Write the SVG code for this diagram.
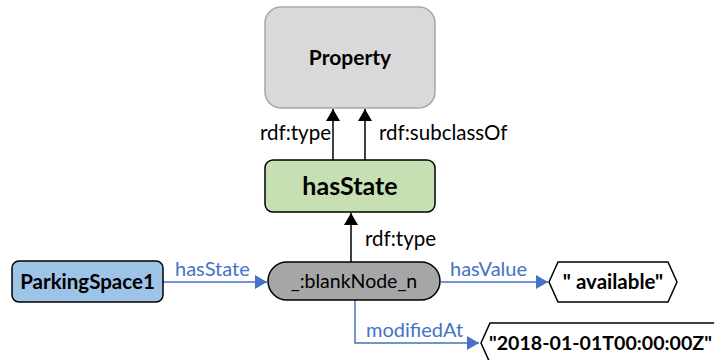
<svg xmlns="http://www.w3.org/2000/svg" width="714" height="360" viewBox="0 0 714 360">
<style>
text{font-family:Lato,"Liberation Sans",sans-serif}
.lbl{font-size:20.5px;fill:#000}
.blue{font-size:20px;fill:#4472c4}
.b{font-weight:bold;fill:#000}
.k{stroke:#000;stroke-width:1.5;fill:none}
.e{stroke:#4472c4;stroke-width:1.5;fill:none}
</style>
<defs>
<marker id="ak" markerWidth="12" markerHeight="14" refX="12" refY="7" orient="auto" markerUnits="userSpaceOnUse"><path d="M0,0 L12,7 L0,14 Z" fill="#000"/></marker>
<marker id="ab" markerWidth="12" markerHeight="14" refX="12" refY="7" orient="auto" markerUnits="userSpaceOnUse"><path d="M0,0 L12,7 L0,14 Z" fill="#4472c4"/></marker>
</defs>
<rect width="714" height="360" fill="#fff"/>
<g id="connectors">
<path class="k" d="M333,160 V109" marker-end="url(#ak)"/>
<path class="k" d="M365,160 V109" marker-end="url(#ak)"/>
<path class="k" d="M351,262 V213" marker-end="url(#ak)"/>
<path class="e" d="M163,282 H267" marker-end="url(#ab)"/>
<path class="e" d="M441,282 H548" marker-end="url(#ab)"/>
<path class="e" d="M355,300 V343 H479" marker-end="url(#ab)"/>
<text class="lbl" x="331" y="140" text-anchor="end">rdf:type</text>
<text class="lbl" x="379" y="140">rdf:subclassOf</text>
<text class="lbl" x="365" y="246">rdf:type</text>
<text class="blue" x="175" y="276">hasState</text>
<text class="blue" x="450" y="276">hasValue</text>
<text class="blue" x="366" y="337">modifiedAt</text>
</g>
<g id="property">
<rect x="265" y="7" width="170" height="101" rx="16" fill="#d9d9d9" stroke="#a6a6a6" stroke-width="1.5"/>
<text class="b" x="350" y="65" text-anchor="middle" font-size="21">Property</text>
</g>
<g id="hasState">
<rect x="265" y="160" width="170" height="52" rx="8" fill="#c6e0b4" stroke="#000" stroke-width="1.5"/>
<text class="b" x="350" y="195" text-anchor="middle" font-size="25">hasState</text>
</g>
<g id="parkingSpace1">
<rect x="12" y="261" width="151" height="41" rx="7" fill="#9dc3e6" stroke="#000" stroke-width="1.5"/>
<text class="b" x="87.5" y="289" text-anchor="middle" font-size="20.5">ParkingSpace1</text>
</g>
<g id="blankNode">
<rect x="268" y="262" width="172" height="38" rx="19" fill="#a6a6a6" stroke="#000" stroke-width="1.5"/>
<text x="354" y="288" text-anchor="middle" font-size="19.5" fill="#000">_:blankNode_n</text>
</g>
<g id="available">
<polygon points="549,282 558,262 668,262 677,282 668,302 558,302" fill="#fff" stroke="#000" stroke-width="1.5"/>
<text class="b" x="613" y="289" text-anchor="middle" font-size="20.5">" available"</text>
</g>
<g id="date">
<polygon points="481,343 490,323 716,323 725,343 716,363 490,363" fill="#fff" stroke="#000" stroke-width="1.5"/>
<text class="b" x="489" y="350" font-size="19.6">"2018-01-01T00:00:00Z"</text>
</g>
</svg>
